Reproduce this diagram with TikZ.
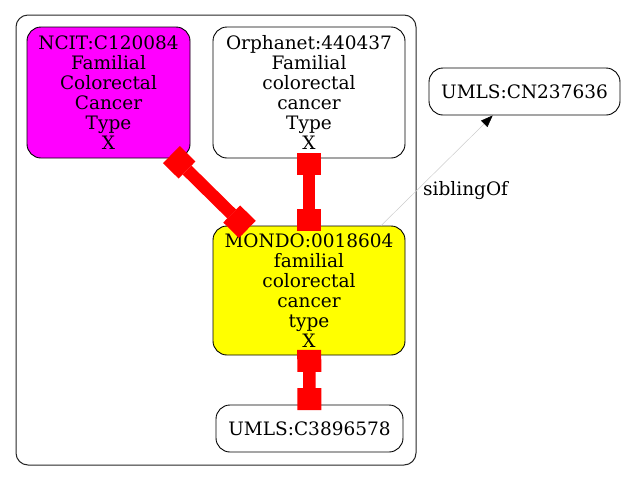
\documentclass[tikz,border=0pt]{standalone}
\usepackage{fontspec}
\setmainfont{DejaVu Serif}
\usetikzlibrary{arrows.meta}
\definecolor{gvmag}{RGB}{255,0,255}
\definecolor{gvyel}{RGB}{255,255,0}
\definecolor{gvred}{RGB}{255,0,0}
\begin{document}
\begin{tikzpicture}[x=1pt,y=-1pt,
  txt/.style={font=\fontsize{18.5}{20}\selectfont},
  nd/.style={txt, draw=black, line width=0.9pt, rounded corners=14pt, align=center, inner sep=0pt},
  cl/.style={draw=black!85, line width=1pt, rounded corners=12pt, inner sep=0pt},
  boxtip/.tip={Square[length=22pt,width=24pt,line width=0pt]},
  rededge/.style={draw=gvred, line width=12.5pt, {boxtip}-{boxtip}, shorten <=-5.5pt, shorten >=-5.5pt},
  sib/.style={draw=black!20, line width=0.5pt, -{Triangle[length=12pt,width=9pt,fill=black,color=black]}}
]
\useasboundingbox (0,0) rectangle (625,480);
\node[cl, minimum width=400pt, minimum height=450pt] (cluster) at (216,240) {};
\node[nd, fill=gvmag, minimum width=163pt, minimum height=131pt] (ncit) at (108.5,92.5)
  {NCIT:C120084\\Familial\\Colorectal\\Cancer\\Type\\X};
\node[nd, fill=white, minimum width=192pt, minimum height=131pt] (orpha) at (309,92.5)
  {Orphanet:440437\\Familial\\colorectal\\cancer\\Type\\X};
\node[nd, fill=gvyel, minimum width=192pt, minimum height=129pt] (mondo) at (309,290.5)
  {MONDO:0018604\\familial\\colorectal\\cancer\\type\\X};
\node[nd, fill=white, minimum width=187pt, minimum height=47pt] (umls1) at (309.5,428.5) {UMLS:C3896578};
\node[nd, fill=white, minimum width=191pt, minimum height=47pt] (umls2) at (524.5,91.5) {UMLS:CN237636};
\draw[rededge] (ncit) -- (mondo);
\draw[rededge] (orpha) -- (mondo);
\draw[rededge] (mondo) -- (umls1);
\draw[sib] (mondo.42.3) -- (umls2.217.6);
\node[txt, anchor=base west, inner sep=0pt] (lbl) at (423,195) {siblingOf};
\end{tikzpicture}
\end{document}
